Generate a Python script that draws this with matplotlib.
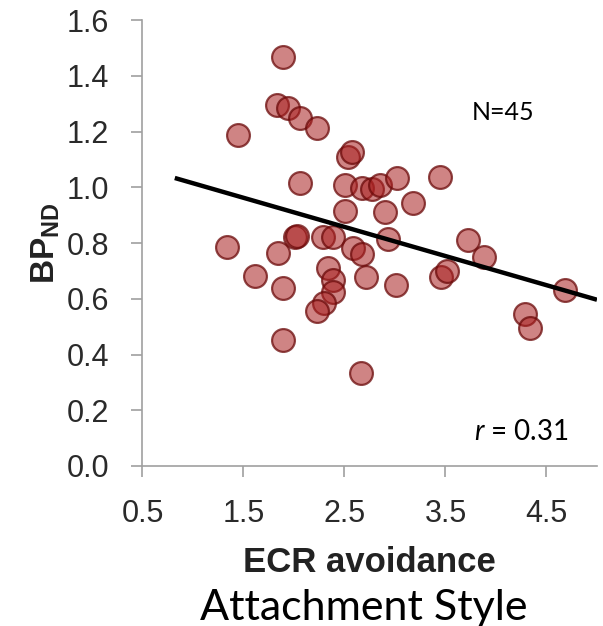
import matplotlib.pyplot as plt
import numpy as np


# ECR avoidance score and BP_ND for each participant
ecr_avoidance = [
    1.89, 1.83, 1.94, 2.06, 2.23, 1.45, 2.53, 2.57, 2.06, 2.51,
    2.67, 2.77, 2.85, 3.02, 3.45, 2.51, 2.90, 3.18, 1.34, 1.84,
    2.01, 2.29, 2.39, 2.58, 2.67, 2.93, 3.72, 3.88, 2.34, 2.39,
    2.39, 2.30, 2.23, 1.61, 1.89, 1.89, 2.71, 3.01, 2.66, 3.46,
    3.52, 4.68, 4.29, 4.34, 2.03,
]
bp_nd = [
    1.467, 1.295, 1.284, 1.248, 1.213, 1.187, 1.109, 1.126, 1.015, 1.008,
    0.997, 0.994, 1.008, 1.033, 1.037, 0.915, 0.911, 0.944, 0.786, 0.764,
    0.822, 0.822, 0.822, 0.782, 0.761, 0.814, 0.811, 0.750, 0.710, 0.667,
    0.624, 0.585, 0.556, 0.682, 0.639, 0.452, 0.678, 0.649, 0.334, 0.678,
    0.700, 0.631, 0.545, 0.495, 0.825,
]

# regression line
fit_x = [0.82, 5.0]
fit_slope = -0.1045
fit_intercept = 1.119

x_ticks = [0.5, 1.5, 2.5, 3.5, 4.5]
y_ticks = [0.0, 0.2, 0.4, 0.6, 0.8, 1.0, 1.2, 1.4, 1.6]

n_label = "N=45"
r_value = 0.31

plt.rcParams["mathtext.fontset"] = "custom"
plt.rcParams["mathtext.bf"] = "Liberation Sans:bold"
plt.rcParams["mathtext.it"] = "Lato:italic"

fig = plt.figure(figsize=(6.03, 6.26), dpi=100)
ax = fig.add_axes([0.2363, 0.2556, 0.7537, 0.7124])

ax.scatter(ecr_avoidance, bp_nd, s=270,
           facecolor=(0.66, 0.12, 0.12, 0.55),
           edgecolor=(0.42, 0.04, 0.04, 0.75),
           linewidth=1.6, zorder=2)

fx = np.array(fit_x)
ax.plot(fx, fit_intercept + fit_slope * fx, color="black", lw=3.2,
        solid_capstyle="butt", zorder=3)

ax.set_xlim(0.5, 5.0)
ax.set_ylim(0.0, 1.6)
ax.set_xticks(x_ticks)
ax.set_yticks(y_ticks)
ax.set_xticklabels([f"{v:.1f}" for v in x_ticks])
ax.set_yticklabels([f"{v:.1f}" for v in y_ticks])

for s in ["top", "right"]:
    ax.spines[s].set_visible(False)
for s in ["left", "bottom"]:
    ax.spines[s].set_color("#a0a0a0")
    ax.spines[s].set_linewidth(1.2)

ax.tick_params(direction="out", length=8, width=1.2, color="#a0a0a0",
               labelsize=22, labelcolor="#2a2a2a")
ax.tick_params(axis="x", pad=16)
ax.tick_params(axis="y", pad=16)
for lbl in ax.get_xticklabels() + ax.get_yticklabels():
    lbl.set_family("Liberation Sans")

ax.set_xlabel("ECR avoidance", fontsize=25, fontweight="bold",
              family="Liberation Sans", color="#222222", labelpad=12)
ax.set_ylabel(r"$\mathbf{BP_{ND}}$", fontsize=24, color="#222222", labelpad=3)

ax.text(4.07, 1.27, n_label, fontsize=18, family="Lato",
        ha="center", va="center", color="black")
ax.text(4.25, 0.122, rf"$r$ = {r_value:.2f}", fontsize=20, family="Lato",
        ha="center", va="center", color="black")

fig.text(0.604, 0.009, "Attachment Style", fontsize=31, family="Lato",
         ha="center", va="baseline", color="black")

fig.savefig("out.png", dpi=100)
plt.close(fig)
